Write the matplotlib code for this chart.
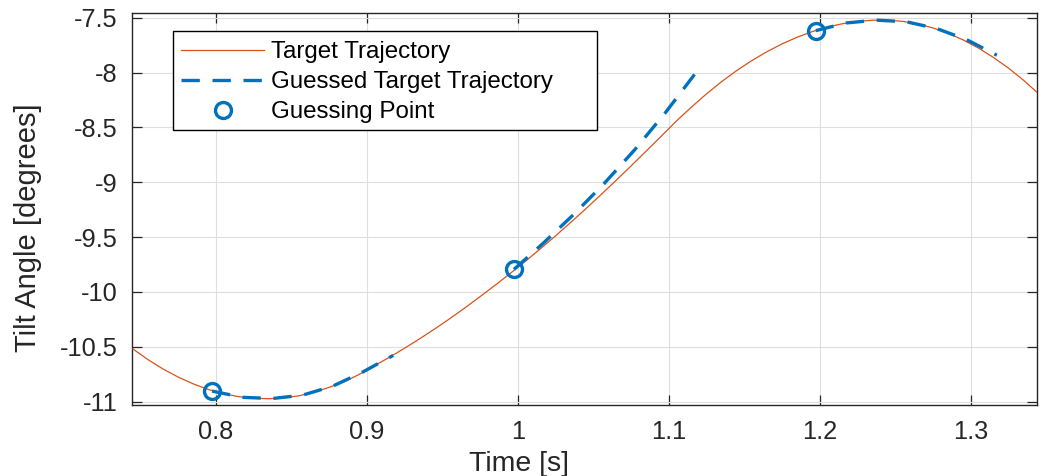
import matplotlib
matplotlib.use("Agg")
import matplotlib.pyplot as plt
from matplotlib.patches import Rectangle

# ---- data ----
t_target = [0.745, 0.755, 0.765, 0.775, 0.785, 0.795, 0.805, 0.815, 0.825, 0.835,
            0.845, 0.855, 0.865, 0.875, 0.885, 0.895, 0.905, 0.915, 0.925, 0.935,
            0.945, 0.955, 0.965, 0.975, 0.985, 0.995, 1.005, 1.015, 1.025, 1.035,
            1.045, 1.055, 1.065, 1.075, 1.085, 1.095, 1.105, 1.115, 1.125, 1.135,
            1.145, 1.155, 1.165, 1.175, 1.185, 1.195, 1.205, 1.215, 1.225, 1.235,
            1.245, 1.255, 1.265, 1.275, 1.285, 1.295, 1.305, 1.315, 1.325, 1.335, 1.345]
y_target = [-10.520, -10.617, -10.703, -10.776, -10.838, -10.889, -10.927, -10.954, -10.969, -10.973,
            -10.965, -10.946, -10.913, -10.869, -10.818, -10.750, -10.672, -10.594, -10.512, -10.426,
            -10.336, -10.242, -10.144, -10.042, -9.938, -9.830, -9.720, -9.605, -9.488, -9.366,
            -9.242, -9.114, -8.984, -8.851, -8.716, -8.580, -8.442, -8.315, -8.194, -8.083,
            -7.982, -7.891, -7.810, -7.739, -7.678, -7.627, -7.586, -7.555, -7.534, -7.523,
            -7.522, -7.533, -7.557, -7.593, -7.641, -7.702, -7.775, -7.861, -7.958, -8.069, -8.192]

t_guess1 = [0.7974, 0.8174, 0.8374, 0.8574, 0.8774, 0.8974, 0.9174]
y_guess1 = [-10.903, -10.960, -10.971, -10.940, -10.858, -10.728, -10.578]
t_guess2 = [0.9974, 1.0174, 1.0374, 1.0574, 1.0774, 1.0974, 1.1188]
y_guess2 = [-9.794, -9.548, -9.288, -9.008, -8.704, -8.372, -7.986]
t_guess3 = [1.1974, 1.2174, 1.2374, 1.2574, 1.2774, 1.2974, 1.3174]
y_guess3 = [-7.618, -7.548, -7.522, -7.537, -7.598, -7.700, -7.842]

t_points = [0.7974, 0.9974, 1.1974]
y_points = [-10.903, -9.794, -7.618]

x_ticks = [0.8, 0.9, 1.0, 1.1, 1.2, 1.3]
x_ticklabels = ["0.8", "0.9", "1", "1.1", "1.2", "1.3"]
y_ticks = [-11, -10.5, -10, -9.5, -9, -8.5, -8, -7.5]
y_ticklabels = ["-11", "-10.5", "-10", "-9.5", "-9", "-8.5", "-8", "-7.5"]

labels = ["Target Trajectory", "Guessed Target Trajectory", "Guessing Point"]

# ---- styling ----
ORANGE = "#D95319"
BLUE = "#0072BD"
DARK = "#262626"
plt.rcParams["font.family"] = ["Liberation Sans", "DejaVu Sans"]

W, H = 1043, 476
fig = plt.figure(figsize=(W / 100, H / 100), dpi=100)
ax = fig.add_axes([131.5 / W, (H - 405) / H, (1037 - 131.5) / W, (405 - 13) / H])

l1, = ax.plot(t_target, y_target, color=ORANGE, lw=0.9, label=labels[0], zorder=3)
dash_kw = dict(color=BLUE, lw=2.4, dashes=(5.5, 3.8), zorder=4)
l2, = ax.plot(t_guess1, y_guess1, label=labels[1], **dash_kw)
ax.plot(t_guess2, y_guess2, **dash_kw)
ax.plot(t_guess3, y_guess3, **dash_kw)
l3, = ax.plot(t_points, y_points, ls="none", marker="o", ms=11.5, mew=2.4,
              mec=BLUE, mfc="none", label=labels[2], zorder=5)

ax.set_xlim(0.744, 1.344)
ax.set_ylim(-11.03, -7.457)
ax.set_xticks(x_ticks)
ax.set_xticklabels(x_ticklabels)
ax.set_yticks(y_ticks)
ax.set_yticklabels(y_ticklabels)

ax.grid(True, color="#DEDEDE", lw=0.8, zorder=0)
ax.set_axisbelow(True)
for s in ax.spines.values():
    s.set_color(DARK)
    s.set_linewidth(1.0)
ax.tick_params(direction="in", top=True, right=True, length=7, width=0.9,
               color=DARK, labelcolor=DARK, labelsize=18.3)
ax.tick_params(axis="x", pad=11)
ax.tick_params(axis="y", pad=10)

ax.set_xlabel("Time [s]", fontsize=20.5, color=DARK)
ax.set_ylabel("Tilt Angle [degrees]", fontsize=21, color=DARK)
ax.xaxis.set_label_coords((519 - 131.5) / (1037 - 131.5), (405 - 477) / (405 - 13))
ax.xaxis.label.set_va("bottom")
ax.yaxis.set_label_coords((14 - 131.5) / (1037 - 131.5), (405 - 228) / (405 - 13))
ax.yaxis.label.set_va("top")

# legend frame drawn separately (MATLAB legends leave extra room on the right)
fig.patches.append(Rectangle((173 / W, 1 - 130 / H), (597 - 173) / W, (130 - 31) / H,
                             transform=fig.transFigure, facecolor="white",
                             edgecolor="black", lw=1.0, zorder=9))
leg = fig.legend(handles=[l1, l2, l3], labels=labels, loc="upper left",
                 bbox_to_anchor=(174 / W, 1 - 34 / H), fontsize=17.4,
                 frameon=False, handlelength=3.43, handletextpad=0.28,
                 labelspacing=0.33, borderpad=0.3, borderaxespad=0)
leg.set_zorder(10)

fig.savefig("out.png", dpi=100)
